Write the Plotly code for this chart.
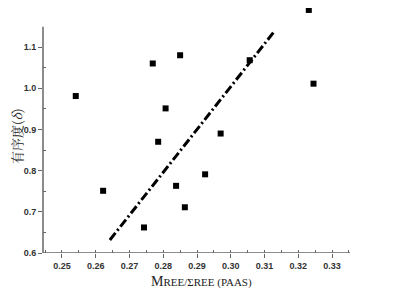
import plotly.graph_objects as go

x_vals = [0.2541, 0.2622, 0.2743, 0.2769, 0.2785, 0.2807, 0.2838, 0.2850, 0.2864, 0.2924, 0.2970, 0.3056, 0.3231, 0.3245]
y_vals = [0.981, 0.751, 0.662, 1.060, 0.870, 0.951, 0.763, 1.080, 0.711, 0.791, 0.890, 1.068, 1.190, 1.011]

fit_x = [0.2642, 0.3128]
fit_y = [0.6316, 1.137]

x_ticks = [0.25, 0.26, 0.27, 0.28, 0.29, 0.30, 0.31, 0.32, 0.33]
y_ticks = [0.6, 0.7, 0.8, 0.9, 1.0, 1.1]

X_MIN, X_MAX = 0.2444, 0.3353
Y_MIN, Y_AXIS_TOP, Y_MAX = 0.6, 1.149, 1.1947

# page is offset by the browser's 8px body margin
W, H = 408, 286
L, R, T, B = 35, 66, 0, 41

fig = go.Figure()
fig.add_trace(go.Scatter(
    x=fit_x, y=fit_y, mode="lines",
    line=dict(color="black", width=3, dash="9px,3px,2px,3px"),
    showlegend=False))
fig.add_trace(go.Scatter(
    x=x_vals, y=y_vals, mode="markers",
    marker=dict(symbol="square", size=6, color="black"),
    cliponaxis=False, showlegend=False))

axcol = "#666"
tickfont = dict(family="Liberation Sans", size=9, color="#333", weight="bold")
fig.update_layout(
    width=W, height=H,
    margin=dict(l=L, r=R, t=T, b=B),
    paper_bgcolor="white", plot_bgcolor="white",
    xaxis=dict(range=[X_MIN, X_MAX], tickvals=x_ticks,
               ticktext=[f"{v:.2f}" for v in x_ticks],
               showgrid=False, zeroline=False, showline=False,
               ticks="outside", ticklen=4, tickcolor=axcol, tickwidth=1.2,
               tickfont=tickfont,
               minor=dict(dtick=0.005, tick0=0.25, ticks="inside", ticklen=3, tickcolor=axcol, showgrid=False)),
    yaxis=dict(range=[Y_MIN, Y_MAX], tickvals=y_ticks,
               ticktext=[f"{v:.1f}" for v in y_ticks],
               showgrid=False, zeroline=False, showline=False,
               ticks="outside", ticklen=4, tickcolor=axcol, tickwidth=1.2,
               tickfont=tickfont,
               minor=dict(tickvals=[0.65, 0.75, 0.85, 0.95, 1.05], ticks="inside", ticklen=3, tickcolor=axcol, showgrid=False)),
    shapes=[
        dict(type="line", xref="paper", yref="y", x0=0, x1=0, y0=Y_MIN, y1=Y_AXIS_TOP,
             line=dict(color=axcol, width=1.5)),
        dict(type="line", xref="paper", yref="y", x0=0, x1=1, y0=Y_MIN, y1=Y_MIN,
             line=dict(color=axcol, width=1.5)),
    ],
)
pw = W - L - R
ph = H - T - B
# pixel positions in page coordinates -> figure coords (offset 8)
def px(xp):
    return (xp - 8 - L) / pw
def py(yp):
    return (H - B - (yp - 8)) / ph

fig.add_annotation(text='<span style="font-size:14px">M</span>REE/ΣREE (PAAS)',
                   x=px(201), y=py(281), xref="paper", yref="paper", showarrow=False,
                   xanchor="center", yanchor="middle",
                   font=dict(family="Liberation Serif, Noto Sans CJK SC", size=11, color="#222"))
fig.add_annotation(text='有序度(<i>δ</i>)', textangle=-90,
                   x=px(16), y=py(136), xref="paper", yref="paper", showarrow=False,
                   xanchor="center", yanchor="middle",
                   font=dict(family="Noto Serif CJK SC, Noto Sans CJK SC", size=13, color="#222"))

fig.write_html("out.html")
